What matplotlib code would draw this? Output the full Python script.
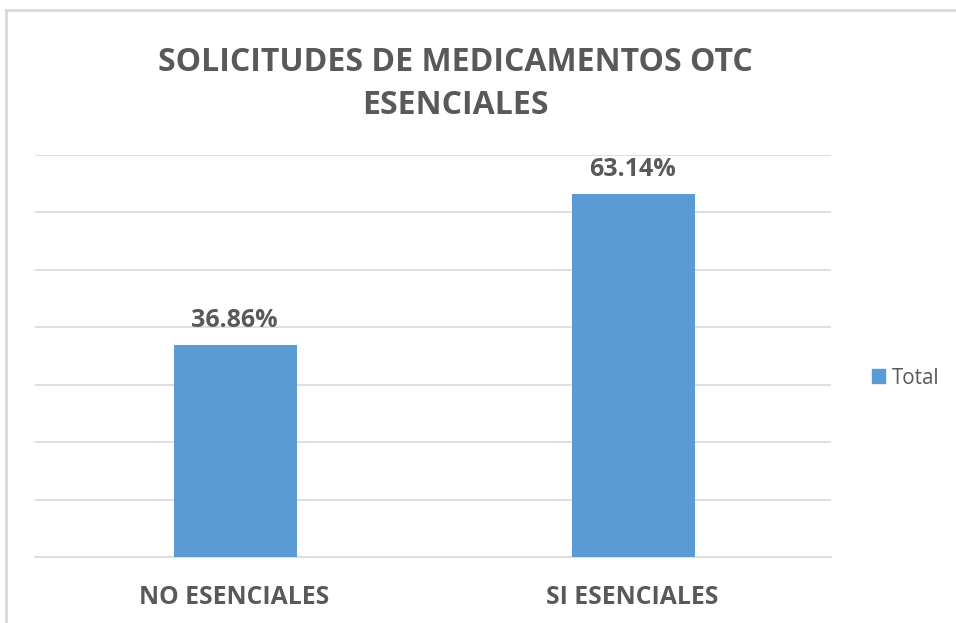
import matplotlib
matplotlib.use("Agg")
import matplotlib.pyplot as plt
from matplotlib.patches import Rectangle
from matplotlib.lines import Line2D

categories = ["NO ESENCIALES", "SI ESENCIALES"]
values = [36.86, 63.14]
series_name = "Total"
title = "SOLICITUDES DE MEDICAMENTOS OTC\nESENCIALES"
yticks = [0, 10, 20, 30, 40, 50, 60, 70]

TXT = "#595959"
BAR = "#5B9BD5"
GRID = "#D9D9D9"
FONT = ["Open Sans", "DejaVu Sans"]

fig = plt.figure(figsize=(9.56, 6.23), dpi=100)
fig.patch.set_facecolor("white")

# outer chart border (top and left visible)
fig.add_artist(Line2D([6/956, 6/956], [0, 1 - 10/623], color=GRID, lw=2, transform=fig.transFigure))
fig.add_artist(Line2D([6/956, 1], [1 - 10/623, 1 - 10/623], color=GRID, lw=2, transform=fig.transFigure))

ax = fig.add_axes([35/956, 1 - 557/623, (831 - 35)/956, (557 - 155)/623])
x = list(range(len(categories)))
bars = ax.bar([xi + 0.003 for xi in x], values, width=0.31, color=BAR, label=series_name, zorder=3)
ax.set_xlim(-0.5, len(categories) - 0.5)
ax.set_ylim(0, 70)
ax.set_yticks(yticks)
ax.yaxis.grid(True, color=GRID, lw=1.2)
ax.set_axisbelow(True)
ax.tick_params(axis="y", left=False, labelleft=False)
ax.tick_params(axis="x", bottom=False, pad=17)
ax.set_xticks(x)
ax.set_xticklabels(categories, fontsize=17.8, fontweight="bold", color=TXT, family=FONT)
for s in ["top", "right", "left"]:
    ax.spines[s].set_visible(False)
ax.spines["bottom"].set_color(GRID)
ax.spines["bottom"].set_linewidth(1.2)

for xi, v in zip(x, values):
    ax.annotate(f"{v:.2f}%", (xi, v), xytext=(0, 13.4), textcoords="offset points",
                ha="center", va="baseline", fontsize=18, fontweight="bold", color=TXT, family=FONT)

fig.text(455/956, 1 - 84/623, title, ha="center", va="center", fontsize=23, fontweight="bold",
         color=TXT, family=FONT, linespacing=1.42)

leg = fig.legend(handles=[Rectangle((0, 0), 1, 1, color=BAR)], labels=[series_name],
                 loc="center left", bbox_to_anchor=(853/956, 1 - 378/623), frameon=False,
                 prop={"family": FONT, "size": 14.8}, handlelength=0.65, handleheight=0.65,
                 handletextpad=0.35, labelcolor=TXT)

fig.savefig("out.png", dpi=100, facecolor="white")
